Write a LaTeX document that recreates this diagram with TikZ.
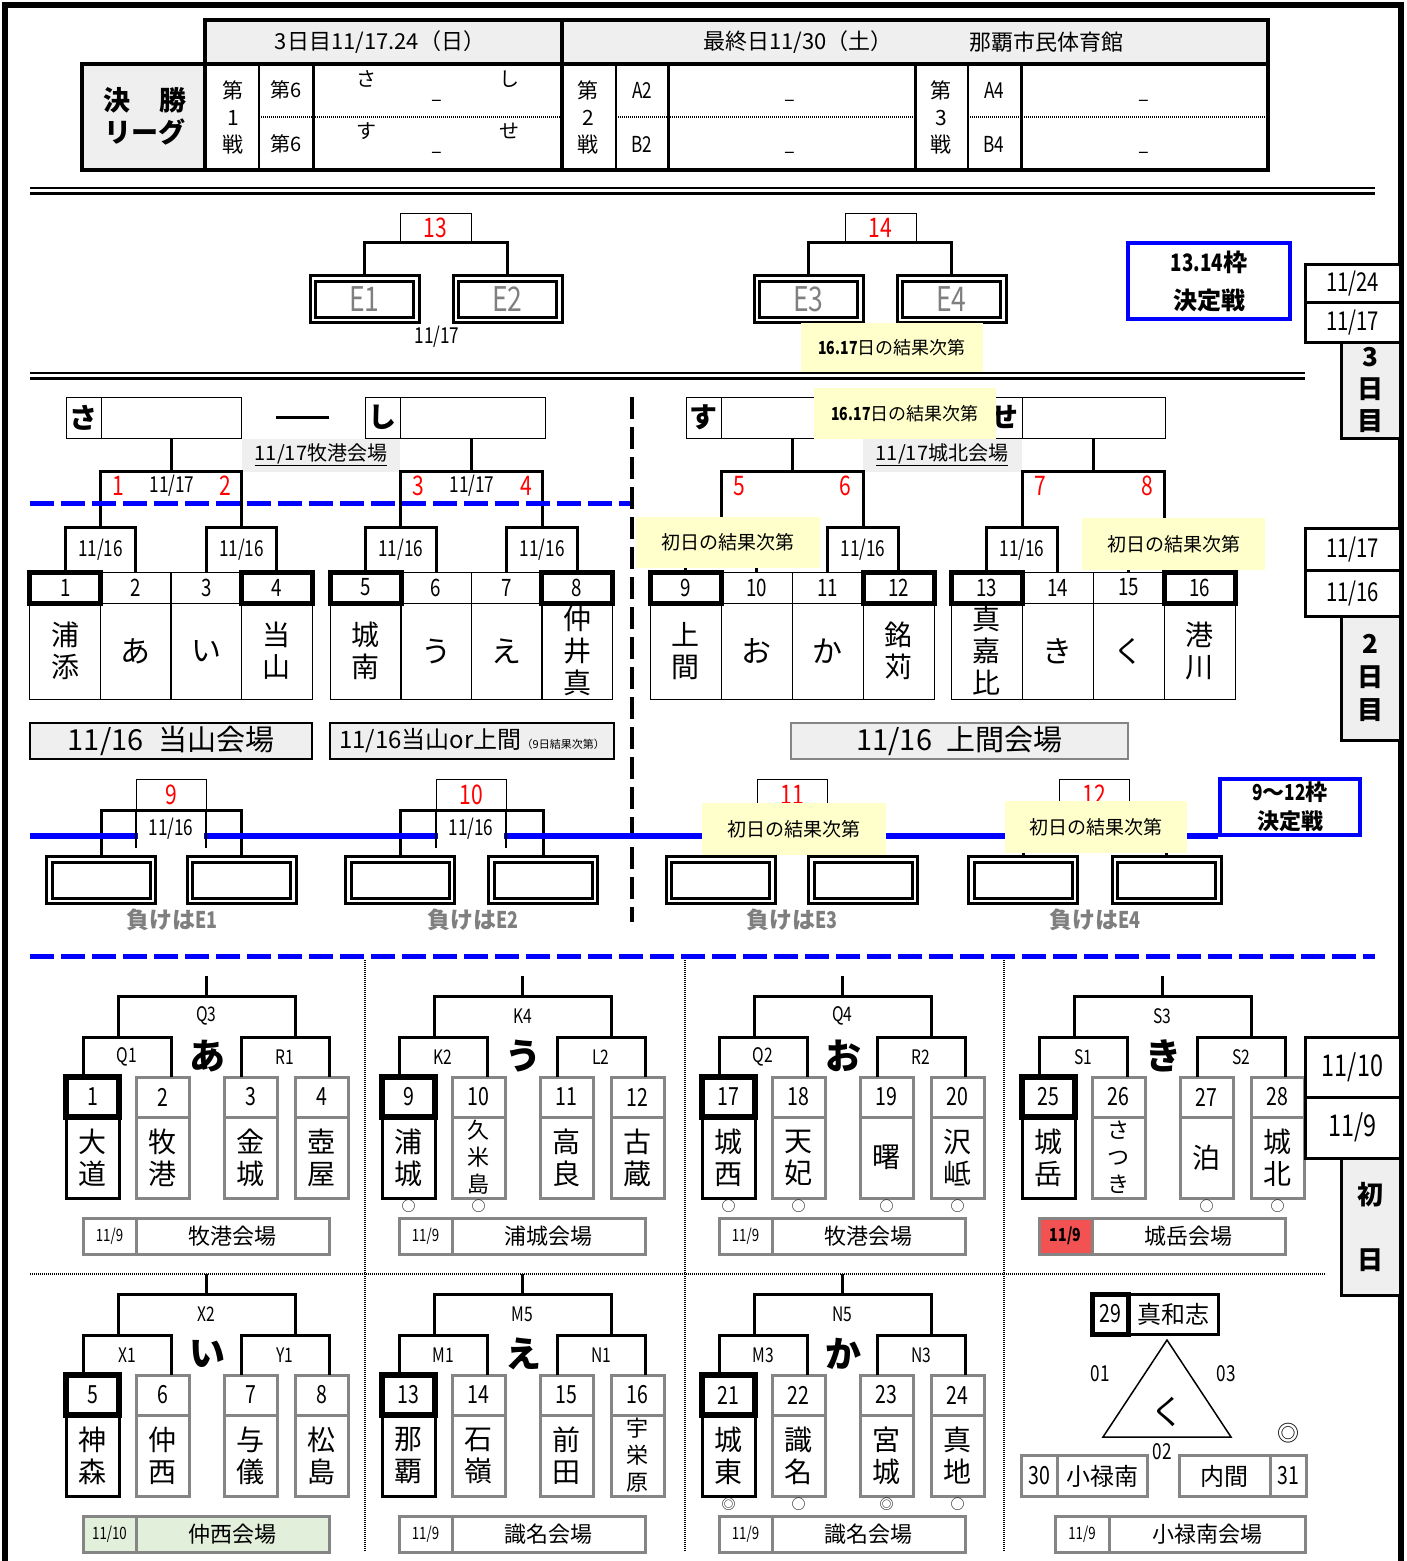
\documentclass[tikz,border=0pt]{standalone}
\usepackage{fontspec}
\setmainfont{Noto Sans CJK JP}
\newfontfamily\nar[FakeStretch=0.78]{Noto Sans CJK JP}
\usetikzlibrary{calc,positioning}
\definecolor{NoteYellow}{HTML}{FFFFCC}
\definecolor{TabGray}{HTML}{EFEFEF}
\definecolor{LineGray}{HTML}{858585}
\definecolor{TextGray}{HTML}{7F7F7F}
\definecolor{DateRed}{HTML}{F25252}
\definecolor{VenueGreen}{HTML}{E2EFDA}
\definecolor{LineBlue}{HTML}{0000FF}
\tikzset{
  fs/.style={font=\fontsize{#1}{#1}\selectfont},
  fn/.style={font=\nar\fontsize{#1}{#1}\selectfont},
  fb/.style={font=\bfseries\fontsize{#1}{#1}\selectfont},
  fl/.style 2 args={font=\fontsize{#1}{#2}\selectfont, align=center},
  brk/.style={line width=3pt},
  plainbox/.style={draw, line width=1pt, inner sep=0pt, outer sep=0pt},
  graycell/.style={draw=LineGray, line width=3pt, inner sep=0pt, outer sep=0pt},
  dblbox/.style={draw, double, line width=3pt, double distance=2.5pt, minimum width=103.5pt, minimum height=41.5pt, inner sep=0pt},
  note/.style={fill=NoteYellow, inner sep=0pt},
  bluebox/.style={draw=LineBlue, line width=4.5pt, inner sep=0pt, align=center},
  redno/.style={text=red, fn=27},
  tabcell/.style={draw, line width=3pt, fill=white, minimum width=95pt, inner sep=0pt, outer sep=0pt, fn=26},
  daytab/.style={draw, line width=3pt, fill=TabGray, minimum width=59pt, inner sep=0pt, outer sep=0pt, align=center},
  dotline/.style={line width=2pt, dash pattern=on 1pt off 1pt},
  bluedash/.style={LineBlue, line width=5pt, dash pattern=on 24pt off 7pt},
}
\newcommand{\pool}[9]{%
  \begin{scope}[shift={#2}]
    \foreach \nn/\nm/\sz/\ld [count=\k] in {#5} {
      \pgfmathsetmacro{\cx}{{26.5,96.5,184.5,255.5}[\k-1]}
      \node[graycell, minimum width=53pt, minimum height=40pt, fn=25] (#1n\k) at (\cx,20) {\nn};
      \node[graycell, minimum width=53pt, minimum height=81pt, fl={\sz}{\ld}] (#1m\k) at (\cx,80.5) {\nm};
    }
    \draw[line width=3pt] (#1m1.north west) rectangle (#1m1.south east);
    \draw[line width=6pt] (#1n1.north west) rectangle (#1n1.south east);
    \coordinate (#1p) at (61,-40);
    \coordinate (#1q) at (219,-40);
    \coordinate (#1t) at (140.5,-81);
    \draw[brk] ([xshift=-9.5pt]#1n1.north) |- (#1p) -| ([xshift=8.5pt]#1n2.north);
    \draw[brk] ([xshift=-9.5pt]#1n3.north) |- (#1q) -| ([xshift=7.5pt]#1n4.north);
    \draw[brk] ([xshift=-9pt]#1p) |- (#1t) -| ([xshift=10pt]#1q);
    \draw[brk] (#1t) -- ++(0,-20);
    \foreach \lt/\ll/\lr in {#4} {
      \node[fn=20] (#1lt) at (140.5,-61) {\lt};
      \node[fn=20] (#1ll) at (61,-20) {\ll};
      \node[fn=20] (#1lr) at (219,-20) {\lr};
    }
    \node[fb=36] (#1kana) at (141,-21) {#3};
    \node[graycell, minimum width=53pt, minimum height=36pt, fn=17, #6] (#1vd) at (43.5,159) {#7};
    \node[graycell, minimum width=193pt, minimum height=36pt, fs=22, fill=#9] (#1vn) at (166.5,159) {#8};
  \end{scope}}
\begin{document}
\begin{tikzpicture}[x=1pt, y=-1pt]
        \useasboundingbox (0,0) rectangle (1407,1561);
        \draw[line width=6pt] (5,1575) -- (5,5) -- (1401,5) -- (1401,1575);

        \fill[TabGray] (205,20) rectangle (1268,64);
        \fill[TabGray] (82,64) rectangle (205,170);
        \draw[line width=4pt] (205,64) -- (205,20) -- (1268,20) -- (1268,64);
        \draw[line width=4pt] (562,20) -- (562,170);
        \draw[line width=4pt] (82,64) rectangle (1268,170);
        \draw[line width=4pt] (205,64) -- (205,170);
        \foreach \x in {259,616,968} \draw[line width=2pt] (\x,64) -- (\x,170);
        \foreach \x in {313,668,915,1021} \draw[line width=3pt] (\x,64) -- (\x,170);
        \foreach \a/\b in {259/562,616/915,968/1268} \draw[dotline] (\a,117) -- (\b,117);
        \node[fs=22] (day3) at (380,42) {3日目11/17.24（日）};
        \node[fs=22] (lastday) at (798,42) {最終日11/30（土）};
        \node[fs=22] (hall) at (1046,42) {那覇市民体育館};
        \node[font=\bfseries\fontsize{27}{32}\selectfont, align=center] (final) at (145,116) {決\hspace{1.1em}勝\\リーグ};
        \foreach \x/\n in {233/1,588/2,941/3}
          \node[fl={21}{27}] (round\n) at (\x,117) {第\\\n\\戦};
        \node[fs=20] (p1a) at (286,90) {第6};
        \node[fs=20] (p1b) at (286,144) {第6};
        \node[fn=22] (p2a) at (642,90) {A2};
        \node[fn=22] (p2b) at (642,144) {B2};
        \node[fn=22] (p3a) at (994,90) {A4};
        \node[fn=22] (p3b) at (994,144) {B4};
        \node[fs=20] (sa1) at (366,79) {さ};
        \node[fs=20] (si1) at (509,79) {し};
        \node[fs=20] (su1) at (366,131) {す};
        \node[fs=20] (se1) at (509,131) {せ};
        \foreach \x/\y [count=\i] in {437/103,437/155,790/103,790/155,1144/103,1144/155}
          \node[fs=20] (dash\i) at (\x,\y) {–};

        \draw[line width=2pt] (30,188) -- (1375,188);
        \draw[line width=3pt] (30,193.5) -- (1375,193.5);

        \node[plainbox, minimum width=71pt, minimum height=29pt, redno] (w13) at (435.5,227.5) {13};
        \node[plainbox, minimum width=71pt, minimum height=29pt, redno] (w14) at (880.5,227.5) {14};
        \node[dblbox, text=TextGray, fn=34] (e1) at (364.5,299) {E1};
        \node[dblbox, text=TextGray, fn=34] (e2) at (507.5,299) {E2};
        \node[dblbox, text=TextGray, fn=34] (e3) at (808.5,299) {E3};
        \node[dblbox, text=TextGray, fn=34] (e4) at (951.5,299) {E4};
        \draw[brk] (e1.north) |- (w13.south) -| (e2.north);
        \draw[brk] (e3.north) |- (w14.south) -| (e4.north);
        \node[fn=22] (d17) at (437,337) {11/17};
        \node[note, minimum width=182pt, minimum height=50pt, fs=18] (n1) at (892,347.5) {{\bfseries\nar 16.17}日の結果次第};
        \node[bluebox, minimum width=162pt, minimum height=76pt, font=\bfseries\fontsize{24}{38}\selectfont] (bb1) at (1209,281) {{\nar 13.14}枠\\決定戦};
        \node[tabcell, minimum height=38pt] (t24) at (1352.5,283) {11/24};
        \node[tabcell, minimum height=40pt, below=0pt of t24] (t17a) {11/17};
        \node[daytab, minimum height=96pt, font=\bfseries\fontsize{26}{32}\selectfont] (t3) at (1370.5,390) {3\\日\\目};

        \draw[line width=2.5pt] (30,373) -- (1305,373);
        \draw[line width=2.5pt] (30,378.5) -- (1305,378.5);

        \node[plainbox, minimum width=35pt, minimum height=41pt, fb=28] (ksa) at (83.5,417.5) {さ};
        \node[plainbox, minimum width=140pt, minimum height=41pt, right=0pt of ksa] (bsa) {};
        \draw[line width=3pt] (276,417) -- (329,417);
        \node[plainbox, minimum width=35pt, minimum height=41pt, fb=28] (ksi) at (382.5,417.5) {し};
        \node[plainbox, minimum width=145pt, minimum height=41pt, right=0pt of ksi] (bsi) {};
        \node[plainbox, minimum width=35pt, minimum height=41pt, fb=28] (ksu) at (703.5,417.5) {す};
        \node[plainbox, minimum width=266pt, minimum height=41pt, right=0pt of ksu] (bsu) {};
        \node[plainbox, minimum width=35pt, minimum height=41pt, fb=28, right=0pt of bsu] (kse) {せ};
        \node[plainbox, minimum width=143pt, minimum height=41pt, right=0pt of kse] (bse) {};
        \node[fill=TabGray, minimum width=158pt, minimum height=33pt, inner sep=0pt, fs=20] (v17a) at (321,455) {\underline{11/17牧港会場}};
        \node[fill=TabGray, minimum width=159pt, minimum height=33pt, inner sep=0pt, fs=20] (v17b) at (942,455) {\underline{11/17城北会場}};

        \foreach \i/\x/\nm/\sz in {1/65.25/{浦\\添}/28, 2/135.75/あ/30, 3/206.25/い/30, 4/276.75/{当\\山}/28,
            5/365.5/{城\\南}/28, 6/436/う/30, 7/506.5/え/30, 8/577/{仲\\井\\真}/28,
            9/685.5/{上\\間}/28, 10/756.5/お/30, 11/827.5/か/30, 12/898.5/{銘\\苅}/28,
            13/986.5/{真\\嘉\\比}/28, 14/1057.5/き/30, 15/1128.5/く/30, 16/1199.5/{港\\川}/28} {
          \node[plainbox, minimum width=71pt, minimum height=31pt, fn=24] (n\i) at (\x,587.5) {\i};
          \node[plainbox, minimum width=71pt, minimum height=96pt, fl={\sz}{32}] (m\i) at (\x,651) {\nm};
        }
        \foreach \i in {1,4,5,8,9,12,13,16}
          \draw[line width=5pt] (n\i.north west) rectangle (n\i.south east);
        \foreach \i/\x/\t in {1/100.5/{11/16},2/241.5/{11/16},3/400.75/{11/16},4/542.25/{11/16},5/721/{},6/863/{11/16},7/1022/{11/16},8/1164/{}}
          \node[fn=22, minimum width=60pt, minimum height=44pt, inner sep=0pt] (q\i) at (\x,550) {\t};
        \foreach \i in {1,...,8} {
          \pgfmathtruncatemacro{\a}{2*\i-1}
          \pgfmathtruncatemacro{\b}{2*\i}
          \draw[brk] (n\a.north) |- (q\i.north) -| (n\b.north);
        }
        \coordinate (j12) at (171,471);
        \coordinate (j34) at (471.5,471);
        \coordinate (j56) at (792,471);
        \coordinate (j78) at (1093,471);
        \draw[brk] (q1.north) |- (j12) -| (q2.north);
        \draw[brk] (q3.north) |- (j34) -| (q4.north);
        \draw[brk] (q5.north) |- (j56) -| (q6.north);
        \draw[brk] (q7.north) |- (j78) -| (q8.north);
        \draw[brk] (j12) -- (j12 |- bsa.south);
        \draw[brk] (j34) -- (j34 |- bsi.south);
        \draw[brk] (j56) -- (j56 |- bsu.south);
        \draw[brk] (j78) -- (j78 |- bse.south);
        \foreach \i/\x in {1/118,2/225,3/418,4/526,5/739,6/845,7/1040,8/1147}
          \node[redno] (r\i) at (\x,486) {\i};
        \node[fn=22] (d12) at (172,486) {11/17};
        \node[fn=22] (d34) at (472,486) {11/17};
        \draw[bluedash] (30,503) -- (632,503);
        \draw[line width=4.5pt, dash pattern=on 22pt off 8pt] (632,397) -- (632,922);
        \node[note, minimum width=182pt, minimum height=51pt, fs=18] (n4) at (905,413.5) {{\bfseries\nar 16.17}日の結果次第};
        \node[note, minimum width=184pt, minimum height=51pt, fs=19] (n2) at (728,542.5) {初日の結果次第};
        \node[note, minimum width=183pt, minimum height=52pt, fs=19] (n3) at (1173.5,544) {初日の結果次第};

        \node[draw, line width=2.5pt, fill=TabGray, minimum width=282pt, minimum height=36pt, inner sep=0pt, fs=29] (vA) at (171,741) {11/16\hspace{0.5em}当山会場};
        \node[draw, line width=2.5pt, fill=TabGray, minimum width=284pt, minimum height=36pt, inner sep=0pt, fs=24] (vB) at (472,741) {11/16当山or上間{\fontsize{11}{11}\selectfont （9日結果次第）}};
        \node[draw=LineGray, line width=2.5pt, fill=TabGray, minimum width=337pt, minimum height=36pt, inner sep=0pt, fs=29] (vC) at (959.5,741) {11/16\hspace{0.5em}上間会場};
        \node[tabcell, minimum height=42pt] (t17b) at (1352.5,549) {11/17};
        \node[tabcell, minimum height=46pt, below=0pt of t17b] (t16) {11/16};
        \node[daytab, minimum height=124pt, font=\bfseries\fontsize{26}{33}\selectfont] (t2) at (1370.5,678) {2\\日\\目};

        \node[bluebox, minimum width=140pt, minimum height=56pt, font=\bfseries\fontsize{22}{29}\selectfont] (bb2) at (1290,807) {{\nar 9}〜{\nar 12}枠\\決定戦};
        \foreach \k/\x/\xa/\xb in {9/171/101/241.5, 10/471/400/543, 11/792/720.5/863, 12/1094/1023/1166.5} {
          \node[plainbox, minimum width=70pt, minimum height=31pt, redno] (w\k) at (\x,795) {\k};
          \node[dblbox] (l\k-a) at (\xa,880) {};
          \node[dblbox] (l\k-b) at (\xb,880) {};
          \draw[brk] (l\k-a.north) |- (w\k.south) -| (l\k-b.north);
        }
        \draw[LineBlue, line width=6pt] (30,836) -- (1218,836);
        \foreach \k in {9,10} {
          \node[fill=white, minimum width=66pt, minimum height=34pt, inner sep=0pt, fn=22] (u\k) at ($(w\k.south)+(0,18)$) {11/16};
          \draw[line width=2.5pt] (w\k.south west) -- ++(0,37) (w\k.south east) -- ++(0,37);
        }
        \node[note, minimum width=184pt, minimum height=52pt, fs=19] (n5) at (794,829) {初日の結果次第};
        \node[note, minimum width=182pt, minimum height=52pt, fs=19] (n6) at (1096,827) {初日の結果次第};
        \foreach \k/\x/\e in {9/172/1, 10/473/2, 11/792/3, 12/1095/4}
          \node[text=TextGray, fb=23] (lose\k) at (\x,920) {負けは{\nar E\e}};
        \draw[bluedash] (30,956) -- (1375,956);

        \foreach \x in {365,685,1004} \draw[dotline] (\x,960) -- (\x,1552);
        \draw[dotline] (30,1274) -- (1325,1274);
        \pool{pA}{(66,1077)}{あ}{Q3/Q1/R1}{1/{大\\道}/28/32, 2/{牧\\港}/28/32, 3/{金\\城}/28/32, 4/{壺\\屋}/28/32}{fill=white}{11/9}{牧港会場}{white}
        \pool{pU}{(382,1077)}{う}{K4/K2/L2}{9/{浦\\城}/28/32, 10/{久\\米\\島}/22/27, 11/{高\\良}/28/32, 12/{古\\蔵}/28/32}{fill=white}{11/9}{浦城会場}{white}
        \pool{pO}{(702,1077)}{お}{Q4/Q2/R2}{17/{城\\西}/28/32, 18/{天\\妃}/28/32, 19/曙/28/32, 20/{沢\\岻}/28/32}{fill=white}{11/9}{牧港会場}{white}
        \pool{pKi}{(1022,1077)}{き}{S3/S1/S2}{25/{城\\岳}/28/32, 26/{さ\\つ\\き}/22/27, 27/泊/28/32, 28/{城\\北}/28/32}{fill=DateRed, font=\bfseries\nar\fontsize{18}{18}\selectfont}{11/9}{城岳会場}{white}
        \pool{pI}{(66,1375)}{い}{X2/X1/Y1}{5/{神\\森}/28/32, 6/{仲\\西}/28/32, 7/{与\\儀}/28/32, 8/{松\\島}/28/32}{fill=VenueGreen}{11/10}{仲西会場}{VenueGreen}
        \pool{pE}{(382,1375)}{え}{M5/M1/N1}{13/{那\\覇}/28/32, 14/{石\\嶺}/28/32, 15/{前\\田}/28/32, 16/{宇\\栄\\原}/22/27}{fill=white}{11/9}{識名会場}{white}
        \pool{pKa}{(702,1375)}{か}{N5/M3/N3}{21/{城\\東}/28/32, 22/{識\\名}/28/32, 23/{宮\\城}/28/32, 24/{真\\地}/28/32}{fill=white}{11/9}{識名会場}{white}
        \foreach \p/\k/\mk in {pU/1/○, pU/2/○, pO/1/○, pO/2/○, pO/3/○, pO/4/○, pKi/3/○, pKi/4/○, pKa/1/◎, pKa/2/○, pKa/3/◎, pKa/4/○}
          \node[fs=14, inner sep=0pt, below=2pt of \p m\k] (\p o\k) {\mk};

        \node[draw, line width=5pt, minimum width=36pt, minimum height=40pt, inner sep=0pt, outer sep=0pt, fn=25] (k29) at (1110.5,1314) {29};
        \node[draw, line width=3pt, minimum width=90pt, minimum height=40pt, inner sep=0pt, outer sep=0pt, fs=24, right=0pt of k29] (kmw) {真和志};
        \coordinate (ta) at (1167,1340);
        \coordinate (tb) at (1231,1437);
        \coordinate (tc) at (1103,1437);
        \draw[line width=1.5pt] (ta) -- (tb) -- (tc) -- cycle;
        \node[fs=34] (kku) at (1167,1412) {く};
        \node[fn=22] (g01) at (1100,1374) {01};
        \node[fn=22] (g03) at (1226,1374) {03};
        \node[fn=22] (g02) at (1162,1452) {02};
        \node[fs=22] (dmark) at (1288,1433) {◎};
        \node[graycell, minimum width=36pt, minimum height=41pt, fn=25] (k30) at (1039,1476) {30};
        \node[graycell, minimum width=90pt, minimum height=41pt, fs=24, right=0pt of k30] (kor) {小禄南};
        \node[graycell, minimum width=91pt, minimum height=41pt, fs=24] (kuc) at (1224.5,1476) {内間};
        \node[graycell, minimum width=36pt, minimum height=41pt, fn=25, right=0pt of kuc] (k31) {31};
        \node[graycell, minimum width=54pt, minimum height=36pt, fn=17] (kvd) at (1082,1534) {11/9};
        \node[graycell, minimum width=196pt, minimum height=36pt, fs=22, right=0pt of kvd] (kvn) {小禄南会場};
        \node[tabcell, minimum height=60pt, fn=30] (t10) at (1352.5,1067) {11/10};
        \node[tabcell, minimum height=61pt, fn=30, below=0pt of t10] (t9) {11/9};
        \node[daytab, minimum height=137pt, font=\bfseries\fontsize{26}{65}\selectfont] (t1) at (1370.5,1226.5) {初\\日};
\end{tikzpicture}
\end{document}
